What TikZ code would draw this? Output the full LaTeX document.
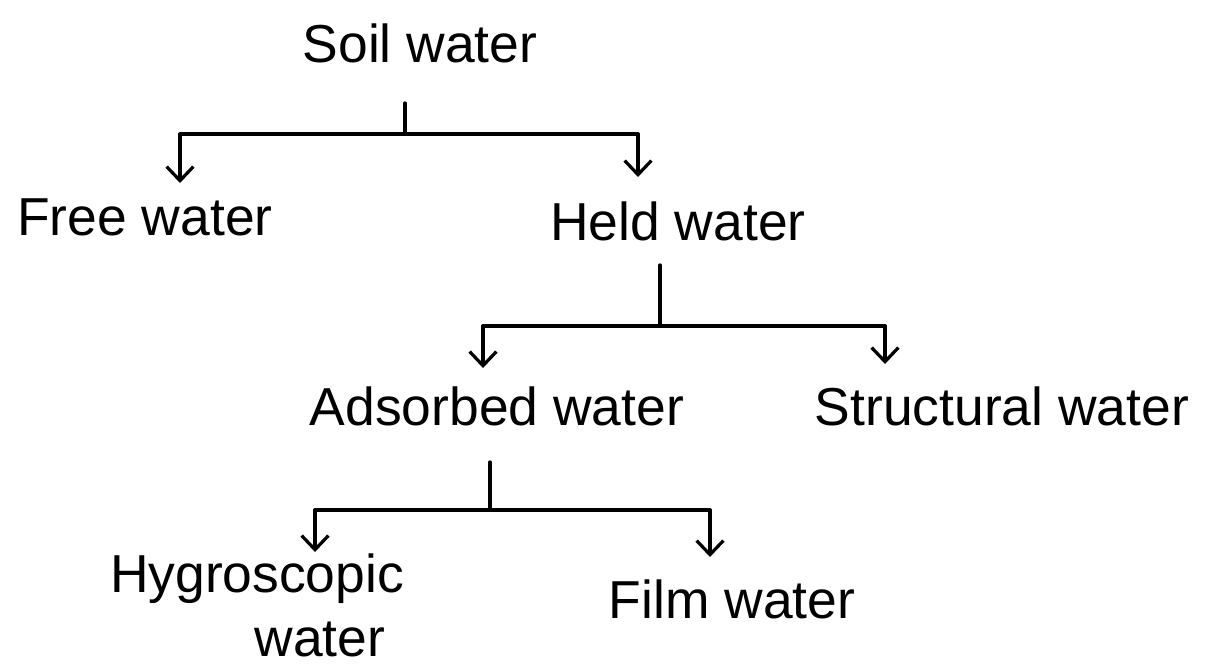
\documentclass[tikz,border=0pt]{standalone}
\usepackage{fontspec}
\setmainfont{Liberation Sans}
\usetikzlibrary{arrows.meta}
\begin{document}
\begin{tikzpicture}[x=0.025cm,y=-0.025cm,
  lbl/.style={anchor=base,inner sep=0pt,font=\fontsize{38}{44}\selectfont},
  ln/.style={line width=2.3pt,line cap=round,line join=round},
  arr/.style={ln,-{Straight Barb[length=10pt,width=19pt,line width=2.3pt]}}]
\useasboundingbox[fill=white] (0,0) rectangle (1223,666);
% labels
\node[lbl] (soil) at (420,62) {Soil water};
\node[lbl] (free) at (145,235) {Free water};
\node[lbl] (held) at (678,240) {Held water};
\node[lbl] (ads) at (497,425) {Adsorbed water};
\node[lbl] (struct) at (1002,425) {Structural water};
\node[lbl] (hyg1) at (257,592) {Hygroscopic};
\node[lbl] (hyg2) at (320,656) {water};
\node[lbl] (film) at (732,618) {Film water};
% junction coordinates
\coordinate (s1) at (405,103);
\coordinate (j1) at (405,134);
\coordinate (j1l) at (180,134);
\coordinate (j1r) at (638,134);
\coordinate (freetop) at (180,183);
\coordinate (heldtop) at (638,177);
\coordinate (s2) at (660,265);
\coordinate (j2) at (660,326);
\coordinate (j2l) at (483,326);
\coordinate (j2r) at (885,326);
\coordinate (adstop) at (483,368);
\coordinate (structtop) at (885,364);
\coordinate (s3) at (490,462);
\coordinate (j3) at (490,510);
\coordinate (j3l) at (315,510);
\coordinate (j3r) at (710,510);
\coordinate (hygtop) at (315,552);
\coordinate (filmtop) at (710,557);
% connectors
\draw[ln] (s1) -- (j1);
\draw[ln] (j1l) -- (j1r);
\draw[arr] (j1l) -- (freetop);
\draw[arr] (j1r) -- (heldtop);
\draw[ln] (s2) -- (j2);
\draw[ln] (j2l) -- (j2r);
\draw[arr] (j2l) -- (adstop);
\draw[arr] (j2r) -- (structtop);
\draw[ln] (s3) -- (j3);
\draw[ln] (j3l) -- (j3r);
\draw[arr] (j3l) -- (hygtop);
\draw[arr] (j3r) -- (filmtop);
\end{tikzpicture}
\end{document}
